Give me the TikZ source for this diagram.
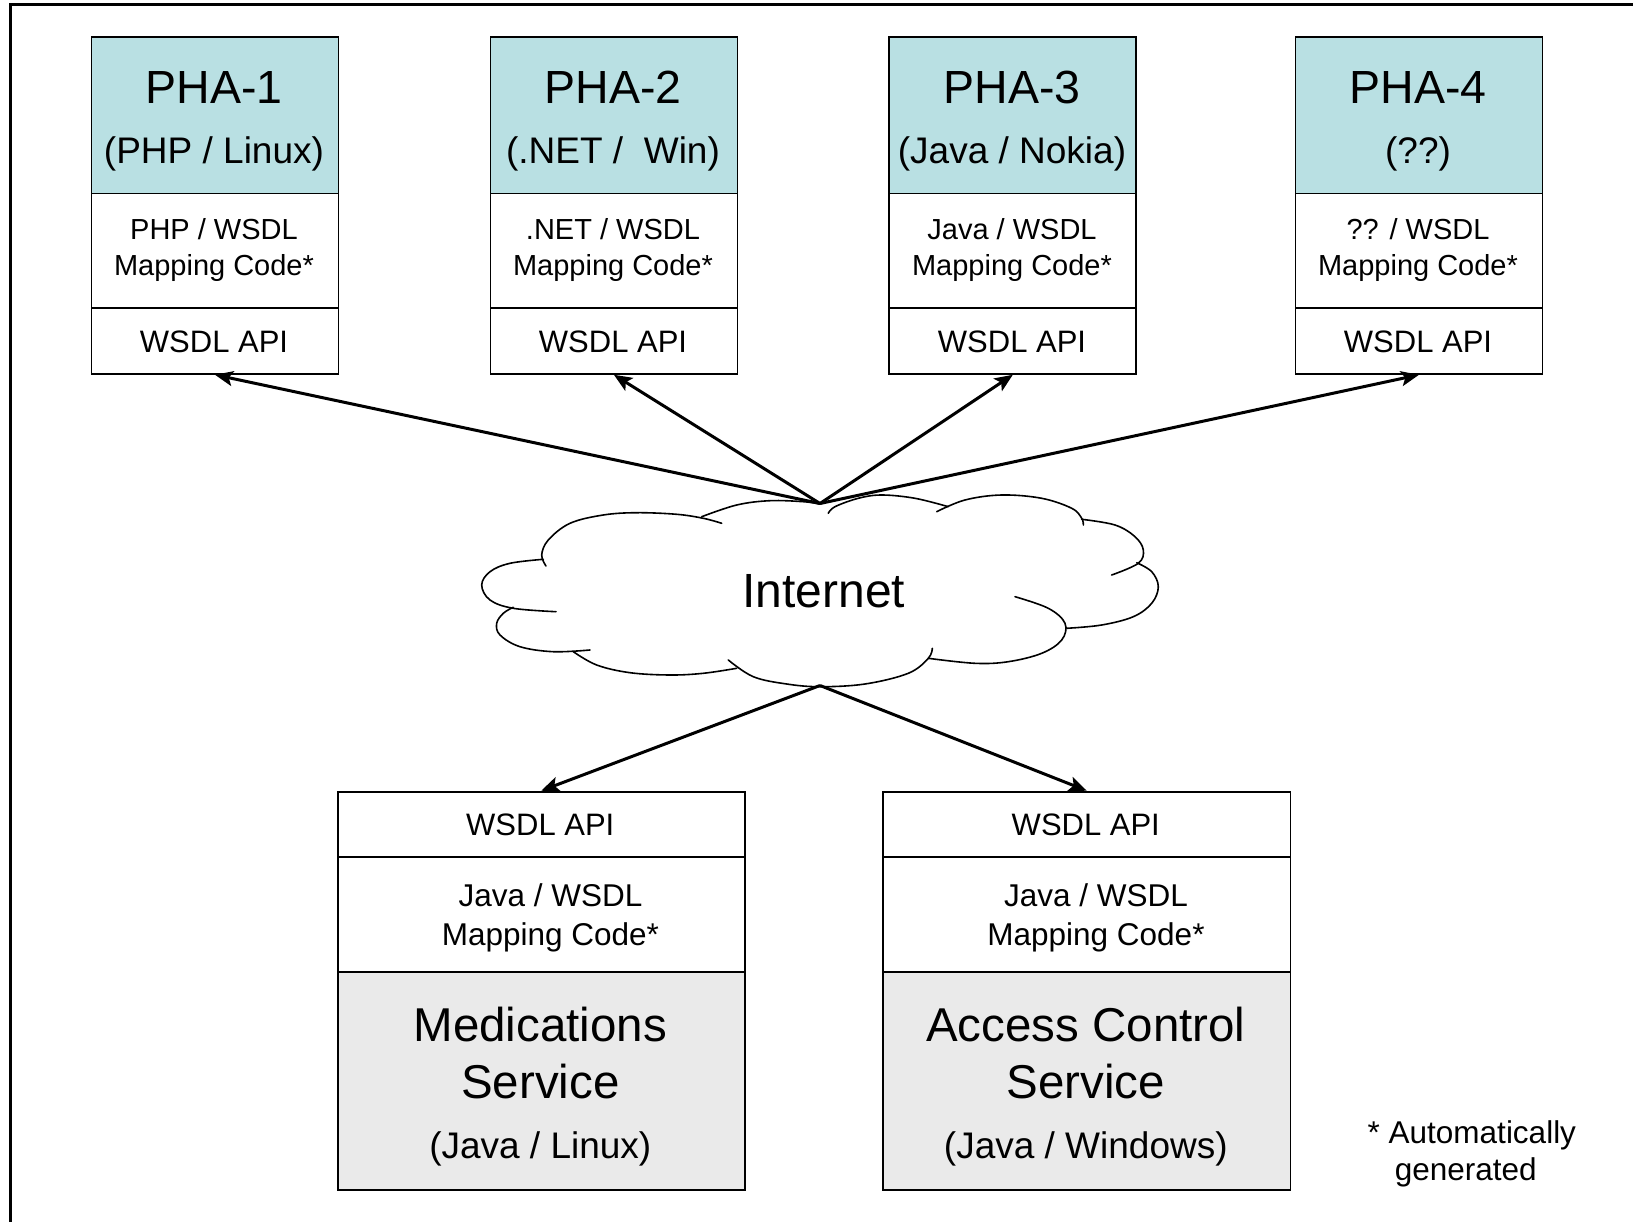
\documentclass[tikz,border=0pt]{standalone}
\usepackage{fontspec}
\setmainfont{Liberation Sans}
\usetikzlibrary{arrows.meta}
\definecolor{phateal}{RGB}{185,224,227}
\definecolor{svcgray}{RGB}{234,234,234}
\begin{document}
\begin{tikzpicture}[x=1pt,y=-1pt,
  sect/.style={draw=black, line width=1.8pt, inner sep=0pt, anchor=north west},
  topsect/.style={sect, fill=phateal, minimum width=247pt, minimum height=156.2pt},
  midsect/.style={sect, fill=white, minimum width=247pt, minimum height=114.3pt},
  apisect/.style={sect, fill=white, minimum width=247pt, minimum height=66pt},
  bapi/.style={sect, fill=white, minimum width=407.3pt, minimum height=65.3pt},
  bmid/.style={sect, fill=white, minimum width=407.3pt, minimum height=115pt},
  bsvc/.style={sect, fill=svcgray, minimum width=407.3pt, minimum height=218.3pt},
  txt/.style={anchor=base, inner sep=0pt},
  ftitle/.style={txt, font=\fontsize{46.5}{55}\selectfont},
  fsub/.style={txt, font=\fontsize{37}{44}\selectfont},
  fmap/.style={txt, font=\fontsize{29}{35}\selectfont},
  fapi/.style={txt, font=\fontsize{31}{37}\selectfont},
  fbmap/.style={txt, font=\fontsize{31.5}{38}\selectfont},
  fsvc/.style={txt, font=\fontsize{47.5}{56}\selectfont},
  fnote/.style={txt, anchor=base west, font=\fontsize{31.5}{37}\selectfont},
  arr/.style={line width=3pt, -{Stealth[length=18pt,width=15pt,inset=4pt]}},
  cloudline/.style={line width=1.6pt, line cap=round}
]
\useasboundingbox (0,0) rectangle (1633,1222);
% outer frame (top and left visible)
\draw[line width=3pt] (10.5,1222) -- (10.5,5) -- (1633,5);

% ---------- PHA boxes ----------
% PHA-1
\node[topsect] (p1a) at (90.6,36.5) {};
\node[midsect] (p1b) at (90.6,192.7) {};
\node[apisect] (p1c) at (90.6,307) {};
\node[ftitle] (p1t) at (214,103.3) {PHA-1};
\node[fsub] (p1s) at (214,163.3) {(PHP / Linux)};
\node[fmap] (p1m1) at (214,240) {PHP / WSDL};
\node[fmap] (p1m2) at (214,276) {Mapping Code*};
\node[fapi] (p1w) at (214,352.7) {WSDL API};
% PHA-2
\node[topsect] (p2a) at (489.5,36.5) {};
\node[midsect] (p2b) at (489.5,192.7) {};
\node[apisect] (p2c) at (489.5,307) {};
\node[ftitle] (p2t) at (613,103.3) {PHA-2};
\node[fsub] (p2s) at (613,163.3) {(.NET /\ \ Win)};
\node[fmap] (p2m1) at (613,240) {.NET / WSDL};
\node[fmap] (p2m2) at (613,276) {Mapping Code*};
\node[fapi] (p2w) at (613,352.7) {WSDL API};
% PHA-3
\node[topsect] (p3a) at (888.4,36.5) {};
\node[midsect] (p3b) at (888.4,192.7) {};
\node[apisect] (p3c) at (888.4,307) {};
\node[ftitle] (p3t) at (1012,103.3) {PHA-3};
\node[fsub] (p3s) at (1012,163.3) {(Java / Nokia)};
\node[fmap] (p3m1) at (1012,240) {Java / WSDL};
\node[fmap] (p3m2) at (1012,276) {Mapping Code*};
\node[fapi] (p3w) at (1012,352.7) {WSDL API};
% PHA-4
\node[topsect] (p4a) at (1294.6,36.5) {};
\node[midsect] (p4b) at (1294.6,192.7) {};
\node[apisect] (p4c) at (1294.6,307) {};
\node[ftitle] (p4t) at (1418,103.3) {PHA-4};
\node[fsub] (p4s) at (1418,163.3) {(??)};
\node[fmap] (p4m1) at (1418,240) {?? / WSDL};
\node[fmap] (p4m2) at (1418,276) {Mapping Code*};
\node[fapi] (p4w) at (1418,352.7) {WSDL API};

% ---------- Service boxes ----------
\node[bapi] (m1) at (336.7,790.7) {};
\node[bmid] (m2) at (336.7,856) {};
\node[bsvc] (m3) at (336.7,971) {};
\node[fapi] (m1t) at (540.3,835.7) {WSDL API};
\node[fbmap] (m2a) at (550.5,906.7) {Java / WSDL};
\node[fbmap] (m2b) at (550.5,945) {Mapping Code*};
\node[fsvc] (m3a) at (540.3,1041.7) {Medications};
\node[fsvc] (m3b) at (540.3,1098.3) {Service};
\node[fsub] (m3c) at (540.3,1158.3) {(Java / Linux)};

\node[bapi] (a1) at (882.2,790.7) {};
\node[bmid] (a2) at (882.2,856) {};
\node[bsvc] (a3) at (882.2,971) {};
\node[fapi] (a1t) at (1085.8,835.7) {WSDL API};
\node[fbmap] (a2a) at (1096,906.7) {Java / WSDL};
\node[fbmap] (a2b) at (1096,945) {Mapping Code*};
\node[fsvc] (a3a) at (1085.8,1041.7) {Access Control};
\node[fsvc] (a3b) at (1085.8,1098.3) {Service};
\node[fsub] (a3c) at (1085.8,1158.3) {(Java / Windows)};

% footnote
\node[fnote] (n1) at (1367.5,1143) {* Automatically};
\node[fnote] (n2) at (1394.6,1180.5) {generated};

% ---------- Internet cloud ----------
\draw[cloudline] plot[smooth, tension=0.6] coordinates {(701.7,516.7) (736.7,505) (770,500.7) (803.3,501.7) (820,504)};
\draw[cloudline] plot[smooth, tension=0.6] coordinates {(828.3,513.3) (835,506.7) (858.3,498.3) (881.7,495) (915,498.3) (948.3,506.7)};
\draw[cloudline] plot[smooth, tension=0.6] coordinates {(936.7,511.7) (965,500) (1001.7,495) (1041.7,498.3) (1071.7,508.3) (1081.7,518.3) (1083.3,525)};
\draw[cloudline] plot[smooth, tension=0.6] coordinates {(1081.7,519.3) (1115,525) (1135,536.7) (1143.3,550) (1138.3,563.3) (1111.7,575)};
\draw[cloudline] plot[smooth, tension=0.6] coordinates {(1136.7,562.7) (1151.7,571.7) (1158.3,586.7) (1151.7,603.3) (1133.3,616.7) (1101.7,625) (1066.7,628.3)};
\draw[cloudline] plot[smooth, tension=0.6] coordinates {(1015,596.7) (1048.3,608.3) (1065,623.3) (1061.7,640) (1041.7,653.3) (1008.3,661.7) (975,663.3) (928.3,658.3)};
\draw[cloudline] plot[smooth, tension=0.6] coordinates {(728.3,660) (753.3,676.7) (786.7,684) (820,686.7) (865,684) (908.3,673.3) (928.3,658.3) (932.3,648.3)};
\draw[cloudline] plot[smooth, tension=0.6] coordinates {(736.7,668.3) (703.3,673.3) (670,675) (630,672.7) (596.7,665) (573.3,651.7)};
\draw[cloudline] plot[smooth, tension=0.6] coordinates {(590,650) (553.3,651.7) (520,646.7) (500,635) (496.7,623.3) (503.3,613.3) (513.3,607.3)};
\draw[cloudline] plot[smooth, tension=0.6] coordinates {(556,611.7) (513.3,608.3) (490,600) (481.7,585) (490,571.7) (510,563.3) (543.3,559.3)};
\draw[cloudline] plot[smooth, tension=0.6] coordinates {(546,566) (541.7,555) (548.3,540) (570,523.3) (603.3,515) (636.7,512.7) (676.7,514.3) (703.3,518.3) (721.7,523.3)};
\node[txt, font=\fontsize{48}{58}\selectfont] (inet) at (823.8,607) {Internet};
\coordinate (itop) at (820,503.5);
\coordinate (ibot) at (820,685.5);

% ---------- connectors ----------
\draw[arr] (itop) -- (p1c.south);
\draw[arr] (itop) -- (p2c.south);
\draw[arr] (itop) -- (p3c.south);
\draw[arr] (itop) -- (p4c.south);
\draw[arr] (ibot) -- (m1.north);
\draw[arr] (ibot) -- (a1.north);
\end{tikzpicture}
\end{document}
